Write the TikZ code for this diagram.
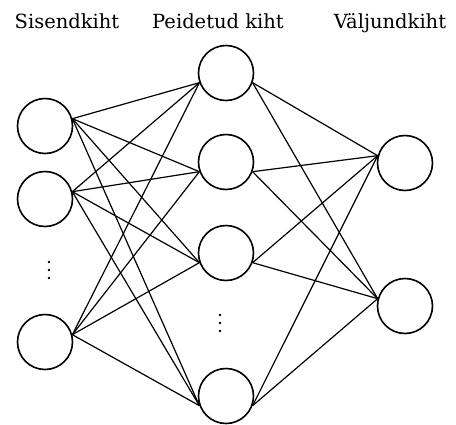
\documentclass[tikz,border=0pt]{standalone}
\usepackage{fontspec}
\setmainfont{DejaVu Serif}
\begin{document}
\begin{tikzpicture}[x=1pt,y=-1pt,
  neuron/.style={circle,draw,line width=1.6pt,minimum size=55pt,inner sep=0pt},
  conn/.style={line width=1.2pt},
  title/.style={font=\fontsize{19.5}{22}\selectfont,anchor=base,inner sep=0pt},
  dotmark/.style={circle,fill,inner sep=0pt,minimum size=2.8pt}]
\useasboundingbox (0,0) rectangle (456,424);
% titles
\node[title] (tIn) at (67,28) {Sisendkiht};
\node[title] (tHid) at (218,28) {Peidetud kiht};
\node[title] (tOut) at (390,28) {Väljundkiht};
% input
\node[neuron] (i1) at (45,126) {};
\node[neuron] (i2) at (45,199) {};
\node[neuron] (i3) at (45,342) {};
% hidden
\node[neuron] (h1) at (226,73) {};
\node[neuron] (h2) at (226,162) {};
\node[neuron] (h3) at (226,253) {};
\node[neuron] (h4) at (226,396) {};
% output
\node[neuron] (o1) at (405,163) {};
\node[neuron] (o2) at (405,306) {};
% dots
\foreach \y [count=\k] in {262,270,278} \node[dotmark] (di\k) at (49,\y) {};
\foreach \y [count=\k] in {315,323,331} \node[dotmark] (dh\k) at (220,\y) {};
% connections
\foreach \a in {i1,i2,i3}
  \foreach \b in {h1,h2,h3,h4}
    \draw[conn] (\a.15) -- (\b.200);
\foreach \a in {h1,h2,h3,h4}
  \foreach \b in {o1,o2}
    \draw[conn] (\a.340) -- (\b.165);
\end{tikzpicture}
\end{document}
